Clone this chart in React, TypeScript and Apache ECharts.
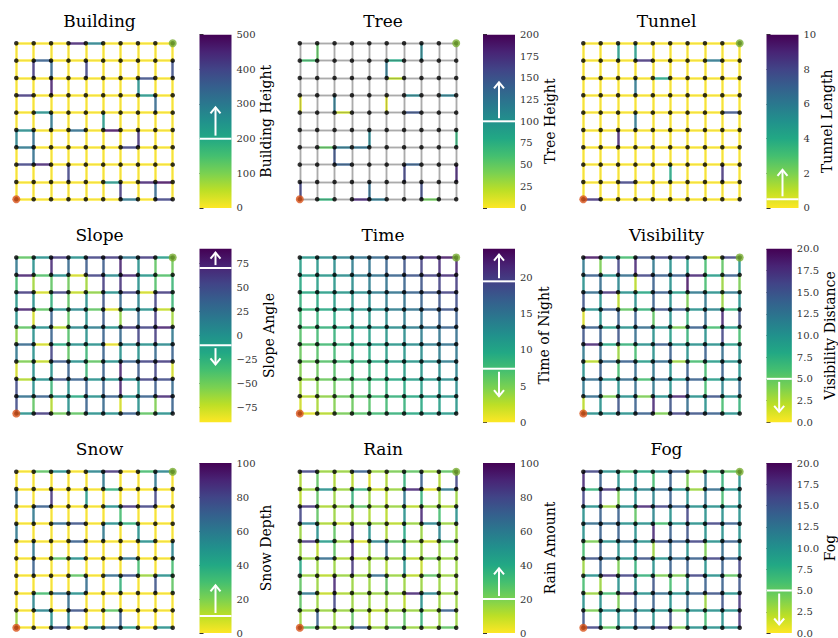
import { useEffect, useRef } from "react";
import * as echarts from "echarts";

// ---------- data (rows top->bottom; H: 10 rows x 9, V: 9 rows x 10) ----------
const buildingH = [
  [0, 0, 0, 450, 280, 0, 0, 0, 0],
  [0, 350, 0, 0, 0, 0, 0, 0, 0],
  [0, 0, 0, 0, 0, 0, 0, 380, 0],
  [420, 0, 0, 0, 0, 0, 0, 240, 0],
  [0, 250, 0, 0, 0, 0, 0, 0, 0],
  [260, 0, 0, 320, 0, 480, 0, 0, 0],
  [300, 0, 0, 0, 0, 0, 400, 0, 0],
  [400, 450, 0, 0, 0, 0, 0, 0, 0],
  [0, 0, 0, 0, 0, 240, 0, 450, 480],
  [0, 0, 0, 0, 0, 0, 300, 0, 400],
];
const buildingV = [
  [0, 0, 0, 0, 0, 0, 0, 0, 0, 0],
  [0, 420, 330, 0, 400, 0, 0, 0, 0, 380],
  [0, 0, 460, 0, 0, 0, 0, 250, 0, 0],
  [0, 0, 0, 0, 0, 0, 0, 0, 330, 0],
  [0, 0, 300, 0, 0, 230, 0, 0, 0, 0],
  [280, 320, 0, 0, 0, 0, 0, 430, 0, 0],
  [0, 320, 0, 0, 0, 0, 0, 0, 0, 0],
  [0, 0, 0, 400, 0, 0, 0, 0, 0, 0],
  [0, 0, 0, 0, 0, 0, 420, 0, 330, 0],
];
const treeH = [
  [0, 0, 0, 0, 0, 0, 0, 0, 0],
  [60, 0, 0, 0, 0, 80, 0, 0, 0],
  [0, 0, 0, 0, 0, 20, 0, 0, 0],
  [0, 0, 0, 0, 0, 0, 110, 0, 115],
  [0, 0, 15, 0, 0, 0, 150, 0, 0],
  [0, 0, 0, 0, 0, 0, 0, 0, 0],
  [0, 50, 120, 125, 0, 0, 0, 0, 0],
  [0, 0, 140, 0, 0, 0, 140, 0, 0],
  [0, 0, 0, 0, 0, 0, 0, 0, 0],
  [0, 70, 0, 180, 120, 0, 0, 45, 0],
];
const treeV = [
  [0, 50, 0, 0, 0, 0, 0, 110, 0, 0],
  [0, 0, 0, 0, 0, 120, 0, 0, 0, 0],
  [0, 0, 0, 0, 0, 0, 0, 0, 0, 0],
  [10, 0, 120, 0, 0, 10, 0, 0, 0, 0],
  [0, 0, 0, 0, 0, 0, 0, 0, 0, 0],
  [0, 0, 0, 0, 110, 0, 0, 0, 0, 70],
  [0, 0, 150, 0, 0, 0, 0, 0, 0, 0],
  [0, 0, 0, 0, 0, 0, 160, 0, 0, 180],
  [160, 0, 0, 0, 130, 0, 0, 155, 0, 0],
];
const tunnelH = [
  [0, 0, 0, 0, 0, 0, 0, 0, 0],
  [0, 0, 0, 8.5, 0, 0, 0, 6, 0],
  [0, 0, 0, 0, 4, 0, 0, 0, 0],
  [0, 0, 0, 0, 0, 0, 0, 0, 0],
  [0, 0, 0, 0, 0, 0, 0, 0, 7.5],
  [0, 0, 0, 0, 0, 0, 0, 0, 0],
  [0, 0, 0, 0, 0, 0, 0, 0, 0],
  [0, 0, 0, 0, 0, 0, 0, 0, 0],
  [0, 0, 8, 0, 0, 0, 0, 0, 0],
  [8.5, 0, 0, 0, 0, 0, 0, 0, 0],
];
const tunnelV = [
  [0, 0, 4.5, 4.5, 0, 0, 0, 0, 0, 0],
  [0, 0, 0, 0, 0, 0, 0, 0, 0, 0],
  [0, 0, 0, 6, 0, 0, 0, 0, 0, 0],
  [0, 0, 0, 0, 0, 0, 0, 0, 0, 0],
  [0, 0, 0, 6, 0, 0, 0, 0, 0, 0],
  [0, 0, 9, 0, 0, 0, 0, 0, 0, 0],
  [0, 0, 0, 0, 0, 0, 0, 0, 0, 0],
  [0, 0, 0, 0, 0, 4, 0, 0, 8.5, 0],
  [0, 0, 0, 0, 0, 0, 0, 0, 0, 0],
];
const slopeH = [
  [-45, 0, 60, 0, 55, 60, 20, 60, -10],
  [75, -40, 0, -80, 55, 5, 70, -5, -40],
  [60, -80, 55, -75, -60, 0, 55, -80, 60],
  [75, -45, 0, 5, -45, -80, 0, 0, -75],
  [-45, 0, -70, 5, 15, 0, 60, 55, 75],
  [30, -80, -20, 0, 0, -85, 5, 0, 5],
  [-55, -75, 40, 0, -45, 0, 35, 55, 60],
  [-70, 0, 45, 35, 0, 0, 5, 55, 50],
  [25, 35, 0, -20, 0, 35, 0, 35, 70],
  [0, 60, -50, -45, 0, 0, 35, -45, 0],
];
const slopeV = [
  [20, 0, 70, 30, 40, 40, 75, 0, -45, -50],
  [-35, -65, -45, -50, -65, 60, 65, 0, -40, -30],
  [-5, 0, -25, -45, 0, 45, 30, 10, 55, -30],
  [0, -80, 35, -45, 0, 40, -60, 30, 60, -65],
  [-60, 0, 35, -40, 0, 35, 30, 55, 60, 20],
  [20, 0, 55, -45, -30, 35, 0, 0, 30, 35],
  [-80, 0, 0, 35, -30, 35, 75, 40, 55, -80],
  [50, 0, -30, 0, 35, 35, 75, 0, 40, 30],
  [50, -45, -70, 0, 35, 30, -80, 0, -55, 35],
];
const timeH = [
  [11.5, 12.5, 13.5, 15.0, 16.0, 17.5, 19.0, 21.0, 22.5],
  [10.5, 11.5, 12.5, 14.0, 15.0, 16.5, 18.0, 19.5, 21.0],
  [9.5, 10.5, 11.5, 12.5, 14.0, 15.0, 16.5, 18.0, 19.5],
  [8.5, 9.5, 10.5, 11.5, 12.5, 14.0, 15.0, 16.5, 18.0],
  [7.5, 8.5, 9.5, 10.5, 11.5, 12.5, 14.0, 15.0, 16.5],
  [6.5, 7.5, 8.5, 9.5, 10.5, 11.5, 12.5, 14.0, 15.0],
  [5.5, 6.5, 7.5, 8.5, 9.5, 10.5, 11.5, 12.5, 14.0],
  [4.0, 5.5, 6.5, 7.5, 8.5, 9.5, 10.5, 11.5, 12.5],
  [2.5, 4.0, 5.5, 6.5, 7.5, 8.5, 9.5, 10.5, 11.5],
  [1.0, 2.5, 5.0, 6.5, 7.5, 8.5, 9.5, 10.5, 11.0],
];
const timeV = [
  [10.5, 11.5, 12.5, 14.0, 15.0, 16.5, 18.0, 19.5, 21.0, 22.0],
  [9.5, 10.5, 11.5, 12.5, 14.0, 15.0, 16.5, 18.0, 19.5, 20.0],
  [8.5, 9.5, 10.5, 11.5, 12.5, 14.0, 15.0, 16.5, 18.0, 18.5],
  [7.5, 8.5, 9.5, 10.5, 11.5, 12.5, 14.0, 15.0, 16.5, 17.0],
  [6.5, 7.5, 8.5, 9.5, 10.5, 11.5, 12.5, 14.0, 15.0, 15.5],
  [5.5, 6.5, 7.5, 8.5, 9.5, 10.5, 11.5, 12.5, 14.0, 14.5],
  [4.5, 5.5, 6.5, 7.5, 8.5, 9.5, 10.5, 11.5, 12.5, 13.5],
  [3.0, 4.5, 5.5, 6.5, 7.5, 8.5, 9.5, 10.5, 11.5, 12.5],
  [1.5, 3.0, 4.5, 5.5, 6.5, 7.5, 8.5, 9.5, 10.5, 11.5],
];
const visibilityH = [
  [19, 10, 6, 15, 16, 16, 14, 2, 16],
  [14, 10, 13, 16, 14, 14, 18, 9, 14],
  [13, 17, 10, 8, 14, 9, 12, 10, 12],
  [10, 14, 5, 7, 15, 14, 10, 11, 7],
  [14, 9, 10, 13, 10, 4, 14, 6, 9],
  [18, 8, 7, 10, 14, 10, 10, 10, 9],
  [2, 13, 14, 9, 13, 3, 6, 9, 10],
  [13, 10, 13, 6, 13, 10, 14, 9, 10],
  [13, 4, 10, 4, 10, 18, 10, 15, 10],
  [10, 10, 10, 14, 4, 16, 15, 14, 10],
];
const visibilityV = [
  [12, 4, 16, 18, 12, 10, 9, 6, 5, 10],
  [10, 13, 11, 2, 14, 10, 19, 6, 3, 4],
  [15, 10, 2, 10, 14, 10, 4, 12, 3, 10],
  [1, 10, 14, 14, 5, 10, 7, 13, 18, 15],
  [15, 14, 15, 13, 10, 9, 7, 10, 16, 6],
  [12, 13, 3, 6, 10, 14, 10, 14, 13, 10],
  [10, 14, 6, 13, 12, 10, 14, 6, 14, 10],
  [12, 13, 10, 13, 12, 10, 14, 6, 11, 13],
  [2, 10, 15, 14, 18, 15, 13, 10, 6, 7],
];
const snowH = [
  [0, 25, 50, 0, 55, 85, 0, 30, 55],
  [0, 0, 0, 0, 0, 35, 0, 0, 0],
  [0, 70, 0, 0, 0, 50, 85, 80, 0],
  [0, 0, 65, 75, 0, 50, 35, 0, 0],
  [0, 0, 0, 70, 0, 0, 0, 50, 0],
  [0, 0, 25, 50, 0, 0, 60, 0, 0],
  [0, 0, 0, 25, 0, 65, 75, 15, 50],
  [0, 30, 60, 50, 0, 0, 0, 0, 0],
  [0, 55, 0, 75, 0, 25, 0, 0, 0],
  [0, 0, 75, 0, 50, 65, 45, 0, 50],
];
const snowV = [
  [0, 0, 0, 0, 0, 60, 0, 0, 60, 0],
  [65, 0, 85, 0, 45, 0, 0, 0, 80, 0],
  [0, 60, 0, 0, 0, 0, 30, 0, 0, 0],
  [60, 0, 0, 0, 0, 60, 0, 50, 0, 0],
  [0, 60, 0, 0, 0, 0, 0, 0, 0, 55],
  [0, 70, 0, 0, 0, 0, 0, 30, 0, 30],
  [0, 0, 0, 0, 65, 0, 35, 0, 75, 25],
  [0, 55, 0, 65, 0, 0, 0, 0, 0, 0],
  [15, 0, 50, 55, 0, 0, 70, 0, 0, 0],
];
const rainH = [
  [80, 15, 15, 70, 15, 20, 25, 15, 25],
  [15, 50, 15, 35, 8, 15, 90, 5, 60],
  [85, 12, 15, 25, 15, 15, 10, 15, 12],
  [55, 12, 8, 15, 15, 10, 15, 55, 15],
  [85, 45, 15, 5, 55, 25, 15, 8, 25],
  [15, 65, 12, 10, 15, 15, 10, 20, 15],
  [15, 10, 15, 15, 65, 15, 10, 25, 15],
  [60, 8, 12, 15, 15, 15, 90, 55, 15],
  [15, 15, 15, 15, 10, 15, 15, 15, 70],
  [25, 15, 15, 70, 15, 25, 15, 15, 25],
];
const rainV = [
  [12, 25, 12, 10, 5, 12, 35, 70, 12, 80],
  [10, 25, 15, 35, 15, 10, 60, 35, 15, 15],
  [80, 25, 15, 15, 12, 10, 50, 90, 30, 50],
  [15, 50, 25, 85, 50, 12, 40, 15, 55, 15],
  [15, 10, 25, 90, 15, 65, 50, 15, 15, 15],
  [40, 15, 15, 85, 15, 12, 50, 8, 15, 15],
  [25, 15, 90, 15, 15, 25, 15, 15, 15, 15],
  [25, 15, 80, 15, 15, 15, 10, 50, 15, 15],
  [15, 70, 15, 25, 10, 15, 25, 35, 15, 15],
];
const fogH = [
  [16, 10, 6, 8, 10, 14, 3, 6, 5],
  [7, 17, 10, 11, 13, 10, 3, 13, 10],
  [10, 3, 10, 18, 16, 14, 10, 10, 10],
  [13, 13, 10, 10, 6, 10, 10, 16, 14],
  [4, 10, 13, 10, 15, 14, 16, 10, 14],
  [15, 13, 10, 15, 10, 13, 14, 16, 14],
  [10, 17, 16, 7, 4, 4, 16, 10, 5],
  [3, 6, 17, 10, 13, 10, 14, 15, 10],
  [4, 10, 10, 10, 10, 5, 10, 10, 10],
  [16, 5, 10, 14, 16, 4, 10, 10, 10],
];
const fogV = [
  [18, 14, 10, 10, 6, 14, 4, 12, 7, 10],
  [16, 16, 4, 10, 11, 14, 10, 12, 6, 10],
  [10, 14, 14, 5, 11, 10, 16, 10, 10, 10],
  [10, 14, 14, 10, 18, 14, 15, 10, 10, 10],
  [6, 14, 10, 10, 3, 13, 10, 4, 13, 10],
  [3, 14, 4, 7, 10, 14, 14, 10, 14, 16],
  [6, 3, 10, 10, 15, 6, 10, 14, 14, 15],
  [10, 10, 4, 14, 14, 10, 13, 3, 15, 17],
  [15, 10, 10, 14, 10, 15, 10, 6, 10, 17],
];

const titles = ["Building", "Tree", "Tunnel", "Slope", "Time", "Visibility", "Snow", "Rain", "Fog"];
const cbLabels = ["Building Height", "Tree Height", "Tunnel Length", "Slope Angle", "Time of Night", "Visibility Distance", "Snow Depth", "Rain Amount", "Fog"];
const ranges = [[0, 500], [0, 200], [0, 10], [-90, 90], [0, 24], [0, 20], [0, 100], [0, 100], [0, 20]];
const tickIntervals = [100, 25, 2, 25, 5, 2.5, 20, 20, 2.5];
const slopeTicks = [-75, -50, -25, 0, 25, 50, 75];
const timeTicks = [0, 5, 10, 15, 20];
// threshold value and arrow tip value
const thresholds = [
  [[200, 290]],
  [[100, 145]],
  [[0.5, 2.2]],
  [[70, 86], [-10, -30]],
  [[19.5, 23.2], [7.4, 3.6]],
  [[5, 1.2]],
  [[10, 28]],
  [[20, 38]],
  [[5, 1.0]],
];
const edgesH = [buildingH, treeH, tunnelH, slopeH, timeH, visibilityH, snowH, rainH, fogH];
const edgesV = [buildingV, treeV, tunnelV, slopeV, timeV, visibilityV, snowV, rainV, fogV];

// ---------- helpers ----------
const VIR = ["#440154", "#482475", "#414487", "#355f8d", "#2a788e", "#21918c", "#22a884", "#44bf70", "#7ad151", "#bddf26", "#fde725"];
const rgb = (h: string) => [parseInt(h.slice(1, 3), 16), parseInt(h.slice(3, 5), 16), parseInt(h.slice(5, 7), 16)];
function viridis(t: number) {
  t = Math.max(0, Math.min(1, t));
  const s = t * 10;
  const i = Math.min(9, Math.floor(s));
  const f = s - i;
  const a = rgb(VIR[i]);
  const b = rgb(VIR[i + 1]);
  return `rgb(${Math.round(a[0] + (b[0] - a[0]) * f)},${Math.round(a[1] + (b[1] - a[1]) * f)},${Math.round(a[2] + (b[2] - a[2]) * f)})`;
}
const colorFor = (v: number, min: number, max: number) => viridis(1 - (v - min) / (max - min));
const fmt = (k: number) => (v: number) => {
  const s = k === 5 || k === 8 ? v.toFixed(1) : String(Math.round(v));
  return s.replace("-", "\u2212");
};

const NODE_X0 = 16.3, COL_STEP = 283.5, NODE_Y0 = 43.3, ROW_STEP = 214.2, SPAN_X = 156.4, SPAN_Y = 156;
const CB_X0 = 199.5, CB_W = 32;
const nameGaps = [23, 25, 17, 25, 18, 25, 24, 24, 25];
const FONT = "DejaVu Serif";

function buildOption() {
  const grid: any[] = [], xAxis: any[] = [], yAxis: any[] = [], series: any[] = [], title: any[] = [];
  const u = SPAN_X / 9, v = SPAN_Y / 9;
  for (let k = 0; k < 9; k++) {
    const i = Math.floor(k / 3), j = k % 3;
    const nx = NODE_X0 + COL_STEP * j, ny = NODE_Y0 + ROW_STEP * i;
    const [min, max] = ranges[k];
    const g = 2 * k, cb = 2 * k + 1;
    grid.push({ left: nx - u / 2, top: ny - v / 2, width: 10 * u, height: 10 * v });
    grid.push({ left: CB_X0 + COL_STEP * j, top: ny - v / 2, width: CB_W, height: 10 * v });
    xAxis.push({ type: "value", gridIndex: g, min: -0.5, max: 9.5, show: false });
    yAxis.push({ type: "value", gridIndex: g, min: -0.5, max: 9.5, show: false });
    xAxis.push({ type: "value", gridIndex: cb, min: 0, max: 1, show: false });
    const custom = k === 3 ? slopeTicks : k === 4 ? timeTicks : null;
    yAxis.push({
      type: "value", gridIndex: cb, min, max, position: "right",
      interval: custom ? undefined : tickIntervals[k],
      axisLine: { show: false }, splitLine: { show: false },
      axisTick: { show: true, length: 4, lineStyle: { color: "#333", width: 1 }, ...(custom ? { customValues: custom } : {}) },
      axisLabel: { color: "#333", fontFamily: FONT, fontSize: 10, margin: 5, formatter: fmt(k), ...(custom ? { customValues: custom } : {}) },
      name: cbLabels[k], nameLocation: "middle", nameRotate: 90, nameGap: nameGaps[k],
      nameTextStyle: { fontFamily: FONT, fontSize: 14, color: "#000" },
    });
    title.push({
      text: titles[k], left: nx + SPAN_X / 2, top: ny - 36, textAlign: "center",
      textStyle: { fontFamily: FONT, fontSize: 17, fontWeight: "normal", color: "#000" },
    });

    const H = edgesH[k], V = edgesV[k];
    const coords: any[] = [];
    const colored: any[] = [];
    const push = (val: number, c: number[][]) => {
      coords.push({ coords: c });
      let color: string, op = 0.85;
      if (k === 1 && val === 0) { color = "#cfcfcf"; op = 1; }
      else color = colorFor(val, min, max);
      colored.push({ coords: c, lineStyle: { color, opacity: op } });
    };
    for (let r = 0; r < 10; r++) for (let c = 0; c < 9; c++) push(H[r][c], [[c, 9 - r], [c + 1, 9 - r]]);
    for (let r = 0; r < 9; r++) for (let c = 0; c < 10; c++) push(V[r][c], [[c, 9 - r], [c, 8 - r]]);
    series.push({
      type: "lines", coordinateSystem: "cartesian2d", xAxisIndex: g, yAxisIndex: g, silent: true,
      lineStyle: { width: 2.5 }, data: colored, z: 2,
    });
    series.push({
      type: "lines", coordinateSystem: "cartesian2d", xAxisIndex: g, yAxisIndex: g, silent: true,
      lineStyle: { width: 0.8, color: "#000", opacity: k === 1 ? 0.22 : 0.06 }, data: coords, z: 3,
    });
    const nodes: number[][] = [];
    for (let r = 0; r < 10; r++) for (let c = 0; c < 10; c++) nodes.push([c, r]);
    series.push({
      type: "scatter", xAxisIndex: g, yAxisIndex: g, silent: true, symbolSize: 4.5, clip: false,
      itemStyle: { color: "#000" }, data: nodes, z: 4,
    });
    series.push({
      type: "scatter", xAxisIndex: g, yAxisIndex: g, silent: true, symbolSize: 8, clip: false, z: 5,
      data: [
        { value: [0, 0], itemStyle: { color: "#d95319" } },
        { value: [9, 9], itemStyle: { color: "#77ac30" } },
      ],
    });
    const thr = thresholds[k];
    series.push({
      type: "custom", xAxisIndex: cb, yAxisIndex: cb, silent: true, clip: false,
      data: [[0, min]],
      renderItem: (_p: any, api: any) => {
        const tl = api.coord([0, max]);
        const br = api.coord([1, min]);
        const stops = VIR.map((c, idx) => ({ offset: idx / 10, color: c }));
        const children: any[] = [{
          type: "rect",
          shape: { x: tl[0], y: tl[1], width: br[0] - tl[0], height: br[1] - tl[1] },
          style: { fill: new echarts.graphic.LinearGradient(0, 0, 0, 1, stops) },
        }];
        const cx = (tl[0] + br[0]) / 2;
        for (const [tv, tip] of thr) {
          const y = api.coord([0, tv])[1];
          const ty = api.coord([0, tip])[1];
          const dir = ty < y ? -1 : 1;
          children.push({ type: "line", shape: { x1: tl[0], y1: y, x2: br[0], y2: y }, style: { stroke: "#fff", lineWidth: 2 } });
          children.push({ type: "line", shape: { x1: cx, y1: y + dir * 3, x2: cx, y2: ty }, style: { stroke: "#fff", lineWidth: 2 } });
          children.push({
            type: "polyline",
            shape: { points: [[cx - 5, ty - dir * 6], [cx, ty], [cx + 5, ty - dir * 6]] },
            style: { stroke: "#fff", lineWidth: 2, fill: "none" },
          });
        }
        return { type: "group", children };
      },
    });
  }
  return { animation: false, backgroundColor: "#fff", title, grid, xAxis, yAxis, series };
}

export default function App() {
  const ref = useRef<HTMLDivElement>(null);
  useEffect(() => {
    if (!ref.current) return;
    const chart = echarts.init(ref.current, undefined, { renderer: "svg" });
    chart.setOption(buildOption() as any);
    return () => chart.dispose();
  }, []);
  return <div ref={ref} style={{ position: "fixed", left: 0, top: 0, width: 838, height: 638 }} />;
}
